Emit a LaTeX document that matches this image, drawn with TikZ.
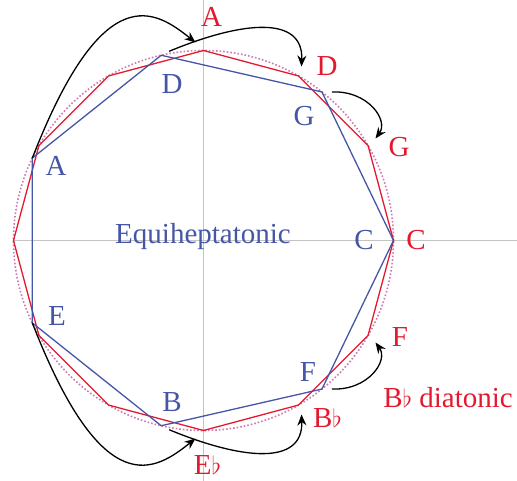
\documentclass[tikz,border=0pt]{standalone}
\usepackage{fontspec}
\setmainfont{Liberation Serif}
\usetikzlibrary{arrows.meta}
\definecolor{diatred}{HTML}{E3192F}
\definecolor{heptblue}{HTML}{4656A6}
\definecolor{axisgray}{HTML}{C4C4C4}
\definecolor{circpink}{HTML}{D07AB0}

\begin{document}
\begin{tikzpicture}[
  x=1pt,
  y=1pt,
  every node/.style={font=\fontsize{29}{31}\selectfont, inner sep=0pt},
  >={Stealth[length=11pt,width=9pt]},
  redlabel/.style={text=diatred},
  bluelabel/.style={text=heptblue},
  moveto/.style={black, line width=1.3pt, ->}
]
  \useasboundingbox (-203.5,-240.5) rectangle (313.5,240.5);
  \def\rad{190}
  \draw[axisgray, line width=0.7pt] (-\rad,0) -- (313.5,0);
  \draw[axisgray, line width=0.7pt] (0,240.5) -- (0,-240.5);
  \draw[circpink, line width=1.6pt, dotted] (0,0) circle (\rad);

  % twelve positions, B-flat diatonic
  \foreach \k in {0,...,11} \coordinate (r\k) at (\k*30:\rad);
  \draw[diatred, line width=1.3pt] (r0) \foreach \k in {1,...,11} { -- (r\k) } -- cycle;

  % equal heptagon
  \foreach \n [count=\k from 0] in {C,G,D,A,E,B,F} \coordinate (h\n) at (\k*360/7:\rad);
  \draw[heptblue, line width=1.3pt] (hC) -- (hG) -- (hD) -- (hA) -- (hE) -- (hB) -- (hF) -- cycle;

  \node[redlabel] (rA) at (8,223.5) {A};
  \node[redlabel] (rD) at (123.5,174.5) {D};
  \node[redlabel] (rG) at (195.5,93.5) {G};
  \node[redlabel] (rC) at (212.5,0) {C};
  \node[redlabel] (rF) at (196.5,-96.5) {F};
  \node[redlabel] (rBb) at (124,-177.5) {B$\flat$};
  \node[redlabel] (rEb) at (4,-224.5) {E$\flat$};
  \node[redlabel, anchor=base] (diat) at (244.5,-167.5) {B$\flat$ diatonic};

  \node[bluelabel] (bC) at (160.5,0) {C};
  \node[bluelabel] (bG) at (100.5,124.5) {G};
  \node[bluelabel] (bD) at (-31.5,156.5) {D};
  \node[bluelabel] (bA) at (-147.5,74.5) {A};
  \node[bluelabel] (bE) at (-146.5,-75.5) {E};
  \node[bluelabel] (bB) at (-31.5,-161.5) {B};
  \node[bluelabel] (bF) at (104.5,-131.5) {F};
  \node[bluelabel, anchor=base] (hept) at (-0.5,-3) {Equiheptatonic};

  % where each step moves
  \coordinate (tA) at (-8,198);
  \coordinate (tD) at (98,174);
  \coordinate (tG) at (172,102);
  \coordinate (tF) at (172,-102);
  \coordinate (tBb) at (98,-174);
  \coordinate (tEb) at (-8,-198);
  \draw[moveto] (hA) .. controls (-100,265) and (-48,230) .. (tA);
  \draw[moveto] ([shift={(8,4)}]hD) .. controls (40,220) and (100,225) .. (tD);
  \draw[moveto] ([xshift=10pt]hG) .. controls (165,150) and (185,120) .. (tG);
  \draw[moveto] ([xshift=10pt]hF) .. controls (165,-150) and (185,-120) .. (tF);
  \draw[moveto] ([shift={(8,-4)}]hB) .. controls (40,-220) and (100,-225) .. (tBb);
  \draw[moveto] (hE) .. controls (-100,-265) and (-48,-230) .. (tEb);
\end{tikzpicture}
\end{document}
